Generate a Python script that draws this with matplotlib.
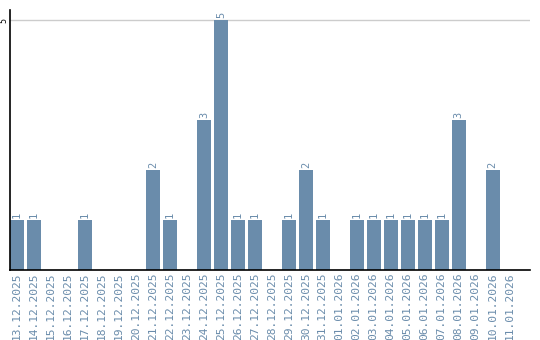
import matplotlib
matplotlib.use("Agg")
import matplotlib.pyplot as plt

dates = ["13.12.2025", "14.12.2025", "15.12.2025", "16.12.2025", "17.12.2025",
         "18.12.2025", "19.12.2025", "20.12.2025", "21.12.2025", "22.12.2025",
         "23.12.2025", "24.12.2025", "25.12.2025", "26.12.2025", "27.12.2025",
         "28.12.2025", "29.12.2025", "30.12.2025", "31.12.2025", "01.01.2026",
         "02.01.2026", "03.01.2026", "04.01.2026", "05.01.2026", "06.01.2026",
         "07.01.2026", "08.01.2026", "09.01.2026", "10.01.2026", "11.01.2026"]
counts = [1, 1, 0, 0, 1, 0, 0, 0, 2, 1, 0, 3, 5, 1, 1, 0, 1, 2, 1, 0,
          1, 1, 1, 1, 1, 1, 3, 0, 2, 0]

bar_color = "#6a8cab"
label_color = "#6a8cab"
font = "DejaVu Sans Mono"

fig = plt.figure(figsize=(5.4, 3.4), dpi=100)
ax = fig.add_axes([10/540, 70/340, 520/540, 260/340])

x = list(range(len(dates)))
ax.bar(x, counts, width=14/17, color=bar_color, zorder=2)
for xi, c in zip(x, counts):
    if c > 0:
        ax.text(xi, c + 0.04, str(c), rotation=90, ha="center", va="bottom",
                fontsize=7.5, color=label_color, family=font)

ax.set_xlim(-7/17, 30.2)
ax.set_ylim(0, 5.2)
ax.set_yticks([5])
ax.set_yticklabels(["5"], rotation=90, va="center", family=font, fontsize=6)
ax.tick_params(axis="y", length=0, pad=1.5)
ax.yaxis.grid(True, color="#cccccc", linewidth=1, zorder=0)
ax.set_xticks(x)
ax.set_xticklabels(dates, rotation=90, family=font, fontsize=8.1, color=label_color)
ax.tick_params(axis="x", length=0, pad=1.5)
for s in ["top", "right"]:
    ax.spines[s].set_visible(False)
ax.spines["left"].set_color("black")
ax.spines["bottom"].set_color("black")
ax.spines["left"].set_linewidth(1.2)
ax.spines["bottom"].set_linewidth(1.2)

fig.savefig("out.png", dpi=100)
